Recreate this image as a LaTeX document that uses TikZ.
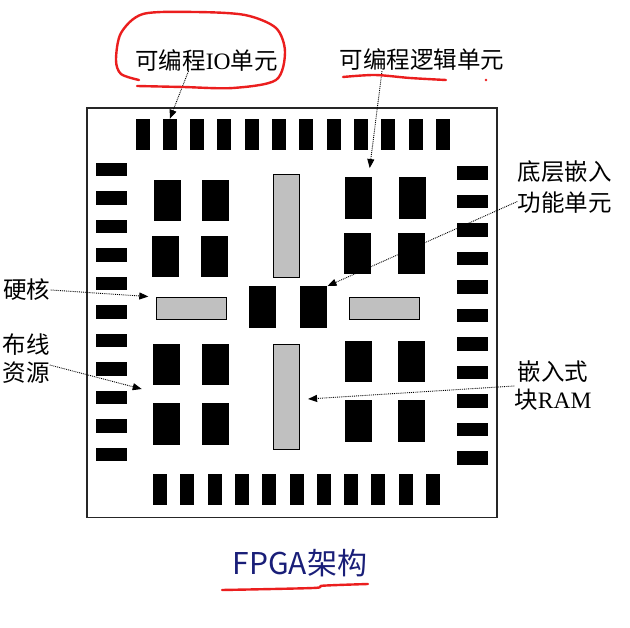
\documentclass[tikz,border=0pt]{standalone}
\usepackage{fontspec}
\setmainfont{Liberation Serif}
\newfontfamily\cjk{Noto Sans CJK SC}
\usetikzlibrary{positioning,calc,arrows.meta}
\definecolor{InkRed}{RGB}{235,30,30}
\definecolor{TitleBlue}{RGB}{25,30,120}
\definecolor{RamGray}{RGB}{192,192,192}
\tikzset{
  frame/.style={draw=black!85,line width=1.3pt,inner sep=0pt},
  padv/.style={fill=black,inner sep=0pt,minimum width=14pt,minimum height=31pt},
  padh/.style={fill=black,inner sep=0pt,minimum width=31pt,minimum height=13.5pt},
  clb/.style={fill=black,inner sep=0pt,minimum width=27pt,minimum height=41.5pt},
  ramv/.style={draw=black,fill=RamGray,line width=0.8pt,inner sep=0pt,minimum width=26pt,minimum height=103pt},
  ramh/.style={draw=black,fill=RamGray,line width=0.8pt,inner sep=0pt,minimum width=70pt,minimum height=22.5pt},
}
\tikzset{lab/.style={font=\cjk\fontsize{23.5}{28}\selectfont,inner sep=0pt,align=center},
  note/.style={densely dotted,line width=0.9pt,-{Triangle[length=9pt,width=7pt]}},
  ink/.style={draw=InkRed,line width=2.4pt,line cap=round,line join=round}}

\begin{document}
\begin{tikzpicture}[x=1pt,y=-1pt]
\useasboundingbox (0,0) rectangle (630,628);
\node[frame,minimum width=410pt,minimum height=409.5pt] (chip) at (291.9,312.9) {};
% io pads
\foreach \i in {0,...,11} \node[padv] (pt\i) at ({142.5+27.3*\i},134.5) {};
\foreach \i in {0,...,10} \node[padv] (pb\i) at ({160+27.3*\i},489.5) {};
\foreach \i in {0,...,10} \node[padh] (pl\i) at (111.2,{169.5+28.5*\i}) {};
\foreach \i in {0,...,10} \node[padh] (pr\i) at (472.2,{173+28.5*\i}) {};
% logic blocks
\node[clb] (ul1) at (167,200.7) {};
\node[clb] (ul2) at (215.8,200.7) {};
\node[clb] (ul3) at (165.5,256.7) {};
\node[clb] (ul4) at (214.5,256.7) {};
\node[clb] (ur1) at (358.7,198) {};
\node[clb] (ur2) at (412.5,198) {};
\node[clb] (ur3) at (357.3,253.7) {};
\node[clb] (ur4) at (411.2,253.7) {};
\node[clb] (c1) at (262.5,307) {};
\node[clb] (c2) at (313.8,307) {};
\node[clb] (ll1) at (166.7,364.7) {};
\node[clb] (ll2) at (215.3,364.7) {};
\node[clb] (ll3) at (166.7,424.2) {};
\node[clb] (ll4) at (215.3,424.2) {};
\node[clb] (lr1) at (358,361.7) {};
\node[clb] (lr2) at (411.8,361.7) {};
\node[clb] (lr3) at (358,421.2) {};
\node[clb] (lr4) at (411.8,421.2) {};
% ram and hard cores
\node[ramv] (rv1) at (286.7,225.8) {};
\node[ramv,minimum height=105pt] (rv2) at (286.7,397) {};
\node[ramh] (rh1) at (191.7,308.2) {};
\node[ramh] (rh2) at (384.5,308.2) {};
% labels
\node[lab] (lio) at (206.5,60) {可编程{\rmfamily IO}单元};
\node[lab] (llogic) at (422,60) {可编程逻辑单元};
\node[lab] (lembed) at (564.5,187.5) {底层嵌入\\[3pt]功能单元};
\node[lab] (lhard) at (27,290) {硬核};
\node[lab] (lroute) at (26,359) {布线\\资源};
\node[lab] (lram) at (553,386) {嵌入式\\块{\rmfamily RAM}};
\node[lab,font=\cjk\fontsize{30}{34}\selectfont,text=TitleBlue] (ltitle) at (300,563) {FPGA架构};
\coordinate (wire) at (141.7,389);
% pointers
\draw[note] ([xshift=-18pt]lio.south) -- (pt1.north);
\draw[note] ([xshift=-40pt]llogic.south) -- ([xshift=11pt,yshift=9pt]ur1.north);
\draw[note] ([yshift=-14pt]lembed.west) -- (c2.north east);
\draw[note] (lhard.east) -- ([xshift=-8pt]rh1.north west);
\draw[note] ([yshift=-6pt]lroute.east) -- (wire);
\draw[note] (lram.west) -- ([xshift=8pt,yshift=-2pt]rv2.east);
% red marks
\draw[ink] plot[smooth] coordinates {(139,80) (121,74) (116,60) (121,33) (143,14) (195,12) (245,15) (276,28) (285,52) (276,80) (233,88) (183,87) (137,86)};
\draw[ink] plot[smooth] coordinates {(343,77) (375,75) (410,78) (446,80)};
\fill[InkRed] (486,80) circle (1.3pt);
\draw[ink] plot[smooth] coordinates {(222,590) (313,588) (323,585.7) (368,584)};
\end{tikzpicture}
\end{document}
